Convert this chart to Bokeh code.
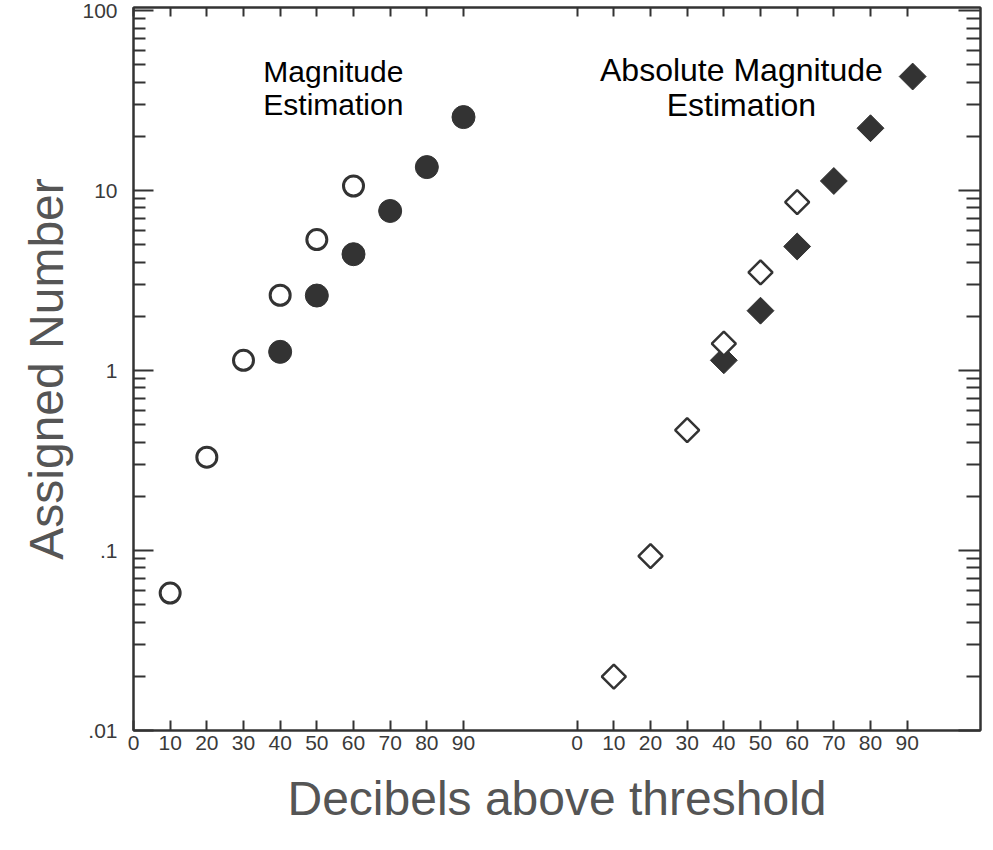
from bokeh.plotting import figure
from bokeh.models import Range1d, FixedTicker, LinearAxis, LogAxis, Label
from bokeh.embed import file_html
from bokeh.resources import INLINE

# ---------------- data ----------------
# Magnitude Estimation (left panel)
me_open_db = [10, 20, 30, 40, 50, 60]
me_open_val = [0.058, 0.33, 1.14, 2.62, 5.34, 10.6]
me_filled_db = [40, 50, 60, 70, 80, 90]
me_filled_val = [1.27, 2.61, 4.43, 7.7, 13.5, 25.6]

# Absolute Magnitude Estimation (right panel)
ame_open_db = [10, 20, 30, 40, 50, 60]
ame_open_val = [0.0199, 0.093, 0.467, 1.41, 3.51, 8.63]
ame_filled_db = [40, 50, 60, 70, 80, 91.5]
ame_filled_val = [1.14, 2.15, 4.89, 11.3, 22.2, 43.0]

db_ticks = [0, 10, 20, 30, 40, 50, 60, 70, 80, 90]
y_ticks = [0.01, 0.1, 1, 10, 100]
y_tick_labels = [".01", ".1", "1", "10", "100"]

panel_titles_left = ["Magnitude", "Estimation"]
panel_titles_right = ["Absolute Magnitude", "Estimation"]

x_label = "Decibels above threshold"
y_label = "Assigned Number"

RIGHT_OFFSET = 121  # horizontal offset of the second panel on the shared axis

# ---------------- figure ----------------
FONT = "Liberation Sans"
AX = "#333333"

p = figure(width=993, height=850, output_backend="svg", toolbar_location=None,
           x_range=Range1d(0, 231), y_range=Range1d(0.01, 104),
           y_axis_type="log",
           min_border_left=133, min_border_right=13,
           min_border_top=7, min_border_bottom=120)
p.grid.visible = False
p.outline_line_color = AX
p.outline_line_width = 2
p.background_fill_color = "white"
p.border_fill_color = "white"

x_tick_pos = db_ticks + [d + RIGHT_OFFSET for d in db_ticks]
x_overrides = {d: str(d) for d in db_ticks}
x_overrides.update({d + RIGHT_OFFSET: str(d) for d in db_ticks})

y_minor = [m * t for t in y_ticks[:-1] for m in range(2, 10)]
y_ticker = FixedTicker(ticks=y_ticks, minor_ticks=y_minor)
x_ticker = FixedTicker(ticks=x_tick_pos, minor_ticks=[])


def style_common(ax):
    ax.axis_line_color = AX
    ax.axis_line_width = 2
    ax.major_tick_line_color = AX
    ax.minor_tick_line_color = AX
    ax.major_tick_line_width = 2
    ax.minor_tick_line_width = 2
    ax.major_tick_out = 0
    ax.minor_tick_out = 0
    ax.major_label_text_font = FONT
    ax.major_label_text_color = "#3a3a3a"
    ax.major_label_text_font_size = "21px"
    ax.axis_label_text_font = FONT
    ax.axis_label_text_font_style = "normal"
    ax.axis_label_text_color = "#555555"
    ax.axis_label_text_font_size = "48px"


# bottom axis
xb = p.xaxis[0]
xb.ticker = x_ticker
xb.major_label_overrides = x_overrides
style_common(xb)
xb.major_tick_in = 10
xb.major_label_standoff = 5
xb.axis_label = x_label
xb.axis_label_standoff = 19

# left axis
yl = p.yaxis[0]
yl.ticker = y_ticker
yl.major_label_overrides = dict(zip(y_ticks, y_tick_labels))
style_common(yl)
yl.major_tick_in = 20
yl.minor_tick_in = 12
yl.major_label_standoff = 16
yl.axis_label = y_label
yl.axis_label_standoff = 6

# top axis (ticks only)
xt = LinearAxis(ticker=x_ticker)
style_common(xt)
xt.major_tick_in = 9
xt.major_label_text_font_size = "1px"
xt.major_label_text_color = None
xt.major_label_standoff = 0
p.add_layout(xt, "above")

# right axis (ticks only)
yr = LogAxis(ticker=y_ticker)
style_common(yr)
yr.major_tick_in = 22
yr.minor_tick_in = 14
yr.major_label_text_font_size = "1px"
yr.major_label_text_color = None
yr.major_label_standoff = 0
p.add_layout(yr, "right")

# ---------------- marks ----------------
MARK = "#333333"
p.scatter(me_open_db, me_open_val, marker="circle", size=20,
          fill_color="white", line_color=MARK, line_width=3)
p.scatter(me_filled_db, me_filled_val, marker="circle", size=23,
          fill_color=MARK, line_color=MARK, line_width=1)

ame_open_x = [d + RIGHT_OFFSET for d in ame_open_db]
ame_filled_x = [d + RIGHT_OFFSET for d in ame_filled_db]
p.scatter(ame_filled_x, ame_filled_val, marker="square", angle=0.785398, size=19,
          fill_color=MARK, line_color=MARK, line_width=1)
p.scatter(ame_open_x, ame_open_val, marker="square", angle=0.785398, size=17,
          fill_color="white", line_color=MARK, line_width=2.5)

# ---------------- annotations ----------------
def add_title(lines, xc, ys, size):
    for txt, yv in zip(lines, ys):
        p.add_layout(Label(x=xc, y=yv, text=txt, text_align="center",
                           text_baseline="middle", text_font=FONT,
                           text_font_size=size, text_color="black"))

add_title(panel_titles_left, 54.5, [46.0, 30.0], "30px")
add_title(panel_titles_right, 165.8, [47.0, 30.0], "32px")

open("out.html", "w").write(file_html(p, INLINE))
